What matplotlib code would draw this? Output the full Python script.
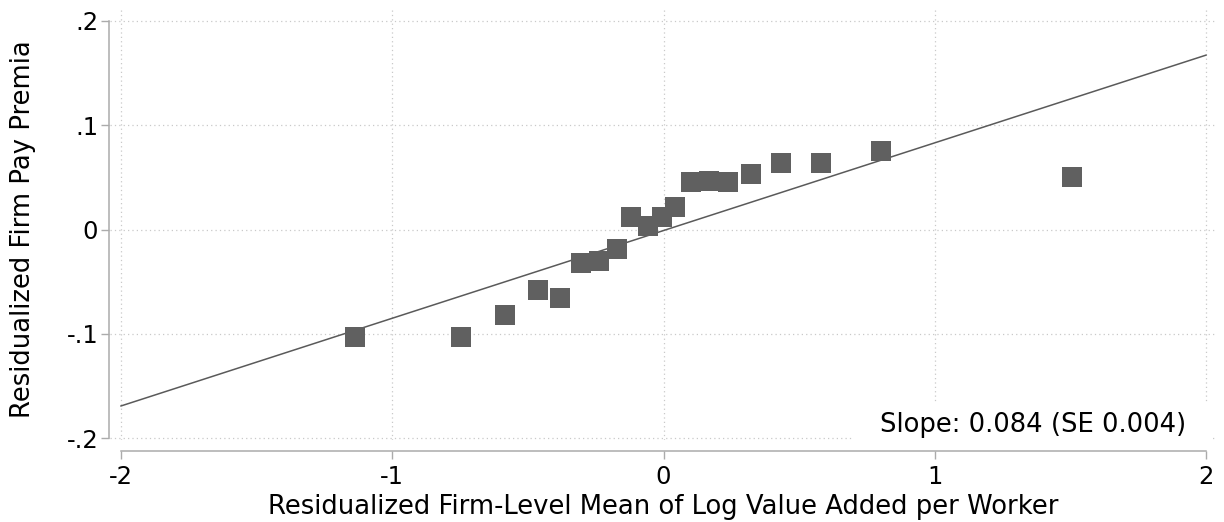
import matplotlib
matplotlib.use("Agg")
import matplotlib.pyplot as plt
import matplotlib.patches as mpatches
import numpy as np

# binned scatter values
bin_x = [-1.137, -0.745, -0.583, -0.461, -0.380, -0.306, -0.236, -0.170,
         -0.118, -0.059, -0.004, 0.044, 0.100, 0.166, 0.236, 0.321,
         0.435, 0.579, 0.801, 1.506]
bin_y = [-0.1034, -0.1032, -0.0822, -0.0575, -0.0652, -0.0317, -0.0298, -0.0184,
         0.0118, 0.0029, 0.0115, 0.0220, 0.0451, 0.0464, 0.0451, 0.0530,
         0.0633, 0.0633, 0.0748, 0.0499]

slope = 0.084
intercept = -0.001
slope_se = 0.004

xticks = [-2, -1, 0, 1, 2]
xticklabels = ["-2", "-1", "0", "1", "2"]
yticks = [-0.2, -0.1, 0.0, 0.1, 0.2]
yticklabels = ["-.2", "-.1", "0", ".1", ".2"]

xlabel = "Residualized Firm-Level Mean of Log Value Added per Worker"
ylabel = "Residualized Firm Pay Premia"

W, H, DPI = 1224, 522, 100
plt.rcParams['font.family'] = ['DejaVu Sans']
FS = 18.6
TFS = 17.5

fig = plt.figure(figsize=(W / DPI, H / DPI), dpi=DPI)
# axes box in pixels: left 110, right 1215, top 7, bottom 440
ax = fig.add_axes([110 / W, (H - 440) / H, 1105 / W, 433 / H])

ax.set_xlim(-2.0406, 2.0332)
ax.set_ylim(-0.2016, 0.2131)

gridcol = "#c9c9c9"
ax.set_axisbelow(True)
ax.grid(True, color=gridcol, linestyle=(0, (1, 2.5)), linewidth=0.9)

# white box behind the slope note
ax.add_patch(mpatches.Rectangle((0.672, 0.0), 0.326, 0.088, transform=ax.transAxes,
                                facecolor="white", edgecolor="none", zorder=1))

# fitted line
xx = np.array([-2.0, 2.0])
ax.plot(xx, intercept + slope * xx, color="#5a5a5a", linewidth=1.1, zorder=2)

ax.scatter(bin_x, bin_y, marker="s", s=13.7 ** 2, color="#606060", linewidths=0, zorder=3)

ax.text(0.974, 0.018, "Slope: %.3f (SE %.3f)" % (slope, slope_se), transform=ax.transAxes,
        ha="right", va="baseline", fontsize=FS, zorder=4)

spcol = "#ababab"
for s in ["top", "right"]:
    ax.spines[s].set_visible(False)
ax.spines["left"].set_position(("outward", 0.94))
ax.spines["bottom"].set_position(("outward", 7.9))
ax.spines["left"].set_bounds(-0.2, 0.2)
ax.spines["bottom"].set_bounds(-2, 2)
for s in ["left", "bottom"]:
    ax.spines[s].set_color(spcol)
    ax.spines[s].set_linewidth(1.1)

ax.set_xticks(xticks)
ax.set_xticklabels(xticklabels)
ax.set_yticks(yticks)
ax.set_yticklabels(yticklabels)
ax.tick_params(axis="both", direction="out", length=5.5, width=1.0, color=spcol,
               labelsize=TFS, labelcolor="black")
ax.tick_params(axis="x", pad=4.5)
ax.tick_params(axis="y", pad=2)

fig.text(663 / W, (H - 514) / H, xlabel, ha="center", va="baseline", fontsize=FS)
fig.text(23 / W, (H - 229.5) / H, ylabel, ha="center", va="center", rotation=90, fontsize=FS)

fig.savefig("out.png", dpi=DPI, facecolor="white")
